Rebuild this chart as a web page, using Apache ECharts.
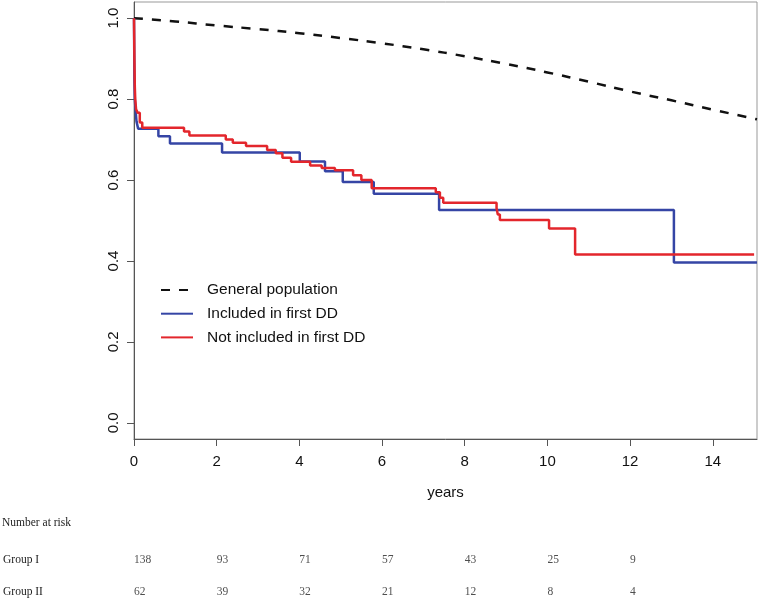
<!DOCTYPE html>
<html>
<head>
<meta charset="utf-8">
<script src="https://cdn.jsdelivr.net/npm/echarts@6/dist/echarts.min.js"></script>
<style>html,body{margin:0;padding:0;background:#fff;}#c{width:761px;height:601px;}</style>
</head>
<body>
<div id="c"></div>
<script>
// ---- data ----
const xTicks = [0, 2, 4, 6, 8, 10, 12, 14];
const yTicks = [0, 0.2, 0.4, 0.6, 0.8, 1.0];
const seriesNames = ['General population', 'Included in first DD', 'Not included in first DD'];

// General population expected survival [years, survival]
const generalPopulation = [
  [0, 1.0], [1, 0.992], [2, 0.982], [3, 0.973], [4, 0.963], [5, 0.951], [6, 0.938],
  [7, 0.923], [8, 0.906], [9, 0.887], [10, 0.866], [11, 0.843], [12, 0.819],
  [13, 0.797], [14, 0.774], [15.07, 0.750]
];
// Kaplan-Meier: Included in first DD (Group I) [time, survival after event]
const includedKM = [
  [0, 1.0], [0.01, 0.85], [0.02, 0.80], [0.04, 0.77], [0.06, 0.745], [0.1, 0.727],
  [0.59, 0.708], [0.87, 0.690], [2.13, 0.668], [4.01, 0.646], [4.62, 0.622],
  [5.05, 0.595], [5.8, 0.566], [7.38, 0.526], [13.06, 0.396], [15.07, 0.396]
];
// Kaplan-Meier: Not included in first DD (Group II)
const notIncludedKM = [
  [0, 1.0], [0.01, 0.90], [0.02, 0.83], [0.03, 0.80], [0.05, 0.775], [0.09, 0.766],
  [0.14, 0.742], [0.2, 0.729], [1.21, 0.720], [1.34, 0.710], [2.22, 0.700],
  [2.39, 0.692], [2.71, 0.684], [3.22, 0.674], [3.43, 0.666], [3.59, 0.655],
  [3.8, 0.645], [4.26, 0.636], [4.54, 0.630], [4.86, 0.624], [5.3, 0.612],
  [5.5, 0.600], [5.75, 0.580], [7.3, 0.570], [7.4, 0.556], [7.48, 0.544],
  [8.77, 0.530], [8.8, 0.515], [8.85, 0.501], [10.04, 0.480], [10.67, 0.416],
  [15.0, 0.416]
];
// Number at risk table
const groupNames = ['Group I', 'Group II'];
const riskTimes = [0, 2, 4, 6, 8, 10, 12];
const groupIRisk = [138, 93, 71, 57, 43, 25, 9];
const groupIIRisk = [62, 39, 32, 21, 12, 8, 4];

// ---- chart ----
const SANS = 'Liberation Sans, Arial, Helvetica, sans-serif';
const SERIF = 'Liberation Serif, Times New Roman, serif';
const BLUE = '#3545a5';
const RED = '#e3262c';

const chart = echarts.init(document.getElementById('c'), null, {renderer: 'canvas'});

function riskSeries(name, values) {
  return {
    type: 'scatter', xAxisIndex: 1, yAxisIndex: 1, silent: true,
    symbolSize: 0, animation: false,
    data: riskTimes.map((t, i) => [t, name, values[i]]),
    label: {
      show: true, position: 'right', distance: 0,
      formatter: p => String(p.value[2]),
      fontFamily: SERIF, fontSize: 11.5, color: '#222'
    }
  };
}

chart.setOption({
  animation: false,
  backgroundColor: '#fff',
  title: {
    text: 'Number at risk', left: 2, top: 517, padding: 0,
    textStyle: {fontFamily: SERIF, fontSize: 11.5, fontWeight: 'normal', color: '#222'}
  },
  legend: {
    orient: 'vertical', left: 160, top: 282, padding: 0,
    itemWidth: 32, itemHeight: 14, itemGap: 7.7,
    itemStyle: {opacity: 0},
    data: seriesNames,
    textStyle: {fontFamily: SANS, fontSize: 15.5, color: '#111', padding: [0, 0, 0, 9]}
  },
  grid: [
    {left: 134, right: 4, top: 2, bottom: 162, show: true, borderColor: '#999', borderWidth: 1, backgroundColor: 'transparent'},
    {left: 134, right: 4, top: 560, height: 31.7, show: false}
  ],
  xAxis: [
    {
      gridIndex: 0, type: 'value', min: 0, max: 15.07,
      name: 'years', nameLocation: 'middle', nameGap: 46,
      nameTextStyle: {fontFamily: SANS, fontSize: 15, color: '#111'},
      axisLine: {show: true, onZero: false, lineStyle: {color: '#555', width: 1}},
      axisTick: {show: true, length: 7, customValues: xTicks, lineStyle: {color: '#555'}},
      axisLabel: {customValues: xTicks, margin: 15, fontFamily: SANS, fontSize: 15, color: '#111'},
      splitLine: {show: false}
    },
    {gridIndex: 1, type: 'value', min: 0, max: 15.07, show: false}
  ],
  yAxis: [
    {
      gridIndex: 0, type: 'value', min: -0.04, max: 1.04,
      axisLine: {show: true, onZero: false, lineStyle: {color: '#555', width: 1}},
      axisTick: {show: true, length: 7, customValues: yTicks, lineStyle: {color: '#555'}},
      axisLabel: {customValues: yTicks, rotate: 90, margin: 13, fontFamily: SANS, fontSize: 15, color: '#111',
        formatter: v => v.toFixed(1)},
      splitLine: {show: false}
    },
    {
      gridIndex: 1, type: 'category', data: groupNames, inverse: true, boundaryGap: false,
      axisLine: {show: false}, axisTick: {show: false}, splitLine: {show: false},
      axisLabel: {align: 'left', margin: 131, fontFamily: SERIF, fontSize: 11.5, color: '#222'}
    }
  ],
  series: [
    {
      name: seriesNames[0], type: 'line', data: generalPopulation, smooth: true,
      symbol: 'none', color: '#111',
      lineStyle: {color: '#111', width: 2.5, type: [9, 9]}
    },
    {
      name: seriesNames[1], type: 'line', data: includedKM, step: 'end',
      symbol: 'none', color: BLUE,
      lineStyle: {color: BLUE, width: 2.5}
    },
    {
      name: seriesNames[2], type: 'line', data: notIncludedKM, step: 'end',
      symbol: 'none', color: RED,
      lineStyle: {color: RED, width: 2.5}
    },
    riskSeries('Group I', groupIRisk),
    riskSeries('Group II', groupIIRisk)
  ]
});
</script>
</body>
</html>
